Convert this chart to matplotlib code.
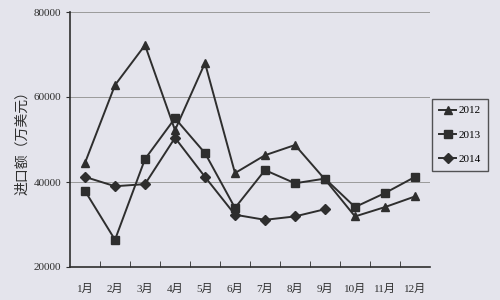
import matplotlib
matplotlib.use("Agg")
from matplotlib import pyplot as plt
import numpy as np

months = ["1月", "2月", "3月", "4月", "5月", "6月", "7月", "8月", "9月", "10月", "11月", "12月"]
imp_2012 = [44500, 62800, 72200, 52200, 68000, 42100, 46300, 48700, 40600, 31900, 34100, 36600]
imp_2013 = [37900, 26400, 45400, 55000, 46800, 33900, 42800, 39700, 40800, 34100, 37400, 41200]
imp_2014 = [41200, 39000, 39500, 50400, 41200, 32300, 31100, 31900, 33600]
yticks = [20000, 40000, 60000, 80000]

bg = "#e4e4ec"
ink = "#2e2e2e"
font_num = ["Liberation Serif", "Noto Sans CJK SC"]

fig = plt.figure(figsize=(5, 3), dpi=100, facecolor=bg)
ax = fig.add_axes([0.14, 0.11, 0.72, 0.85], facecolor=bg)

x = np.arange(1, 13)
ax.plot(x, imp_2012, color=ink, lw=1.4, marker="^", ms=6, label="2012")
ax.plot(x, imp_2013, color=ink, lw=1.4, marker="s", ms=5.5, label="2013")
ax.plot(x[:len(imp_2014)], imp_2014, color=ink, lw=1.4, marker="D", ms=5, label="2014")

ax.set_xlim(0.5, 12.5)
ax.set_ylim(20000, 80000)

for v in yticks[1:]:
    ax.axhline(v, color="#9a9a9a", lw=0.7, zorder=0)

ax.spines["top"].set_visible(False)
ax.spines["right"].set_visible(False)
ax.spines["left"].set_color(ink)
ax.spines["bottom"].set_color(ink)
ax.spines["left"].set_linewidth(1.2)
ax.spines["bottom"].set_linewidth(1.2)

ax.set_xticks(x)
ax.set_xticklabels(months, family=font_num, fontsize=8, color=ink)
ax.tick_params(axis="x", which="major", length=0, pad=12)
ax.set_xticks(np.arange(1.5, 12.5, 1), minor=True)
ax.tick_params(axis="x", which="minor", direction="in", length=4, color=ink)

ax.set_yticks(yticks)
ax.set_yticklabels([str(v) for v in yticks], family=font_num, fontsize=8, color=ink)
ax.tick_params(axis="y", direction="out", length=3, color=ink)

ax.set_ylabel("进口额（万美元）", family=["Noto Sans CJK SC", "DejaVu Sans"],
              fontsize=10, color=ink, labelpad=3)

leg = fig.legend(loc="upper left", bbox_to_anchor=(432 / 500, 1 - 99 / 300),
                 prop={"family": font_num, "size": 8}, frameon=True,
                 fancybox=False, edgecolor=ink, facecolor=bg,
                 handlelength=1.6, handletextpad=0.2, labelspacing=1.3,
                 borderpad=0.6, borderaxespad=0)
leg.get_frame().set_linewidth(1.0)

fig.savefig("out.png", dpi=100, facecolor=bg)
